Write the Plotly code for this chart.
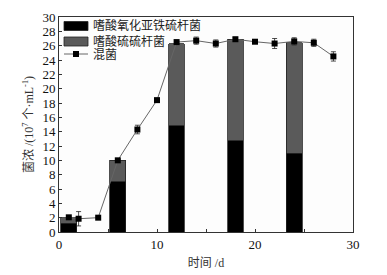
import plotly.graph_objects as go

bar_days = [1, 6, 12, 18, 24]
ferro = [1.2, 7.0, 14.8, 12.7, 11.0]          # 嗜酸氧化亚铁硫杆菌
thio = [0.8, 3.0, 11.5, 14.2, 15.4]           # 嗜酸硫硫杆菌
mix_days = [1, 2, 4, 6, 8, 10, 12, 14, 16, 18, 20, 22, 24, 26, 28]
mix_vals = [2.05, 1.85, 2.0, 10.0, 14.3, 18.4, 26.5, 26.7, 26.3, 26.9, 26.55, 26.3, 26.6, 26.4, 24.5]
mix_err = [0.1, 1.0, 0.1, 0.1, 0.6, 0.1, 0.15, 0.5, 0.5, 0.25, 0.2, 0.7, 0.5, 0.5, 0.65]
legend_names = ["嗜酸氧化亚铁硫杆菌", "嗜酸硫硫杆菌", "混菌"]

FONT = "Liberation Serif, Noto Sans CJK SC, serif"
BLACK = "#000000"
GRAY = "#5a5a5a"

fig = go.Figure()
fig.add_trace(go.Bar(x=bar_days, y=ferro, name=legend_names[0], width=1.6,
                     marker=dict(color=BLACK, line=dict(color="#222", width=0.8))))
fig.add_trace(go.Bar(x=bar_days, y=thio, name=legend_names[1], width=1.6,
                     marker=dict(color=GRAY, line=dict(color="#222", width=0.8))))
fig.add_trace(go.Scatter(x=mix_days, y=mix_vals, name=legend_names[2], mode="lines+markers",
                         line=dict(color="#666", width=1),
                         marker=dict(symbol="square", size=6, color="#000"),
                         error_y=dict(type="data", array=mix_err, color="#222", thickness=0.8, width=2.5)))

# custom legend (plot area: 59..353 px wide, 17..232 px tall)
L, R, T, B = 59, 353, 17, 232
def px(x): return (x - L) / (R - L)
def py(y): return (B - y) / (B - T)

shapes = [
    dict(type="rect", xref="paper", yref="paper", x0=px(64), x1=px(88), y0=py(30.5), y1=py(21.5),
         fillcolor=BLACK, line=dict(color="#222", width=0.8)),
    dict(type="rect", xref="paper", yref="paper", x0=px(64), x1=px(88), y0=py(46), y1=py(37),
         fillcolor=GRAY, line=dict(color="#222", width=0.8)),
    dict(type="line", xref="paper", yref="paper", x0=px(64), x1=px(88), y0=py(54), y1=py(54),
         line=dict(color="#666", width=1)),
    dict(type="rect", xref="paper", yref="paper", x0=px(73), x1=px(79), y0=py(57), y1=py(51),
         fillcolor="#000", line=dict(color="#000", width=0)),
]
annotations = [
    dict(xref="paper", yref="paper", x=px(91), y=py(yc), xanchor="left", yanchor="middle",
         text=name, showarrow=False, font=dict(size=12, color="#222"))
    for name, yc in zip(legend_names, [26, 41.5, 55])
]

fig.update_layout(
    width=387, height=275, barmode="stack",
    margin=dict(l=L, r=387 - R, t=T, b=275 - B),
    plot_bgcolor="#fdfdfd", paper_bgcolor="white",
    font=dict(family=FONT, size=13, color="#111"),
    showlegend=False, shapes=shapes, annotations=annotations,
)
fig.update_xaxes(range=[0, 30], dtick=10, ticks="inside", ticklen=3, tickcolor="#333",
                 showline=True, linecolor="#333", linewidth=1, mirror=True, showgrid=False,
                 zeroline=False, automargin=False,
                 minor=dict(dtick=5, ticks="inside", ticklen=3, tickcolor="#333"),
                 title=dict(text="时间 /d", font=dict(size=12, color="#333"), standoff=8))
fig.update_yaxes(range=[0, 30], dtick=2, ticks="inside", ticklen=3, tickcolor="#333",
                 showline=True, linecolor="#333", linewidth=1, mirror=True, showgrid=False,
                 zeroline=False, automargin=False,
                 title=dict(text="菌浓 /(10<sup>7</sup> 个·mL<sup>-1</sup>)", font=dict(size=12, color="#333"), standoff=6))

fig.write_html("out.html", config={"displayModeBar": False},
               post_script="document.body.style.margin='0';document.body.style.padding='0';")
